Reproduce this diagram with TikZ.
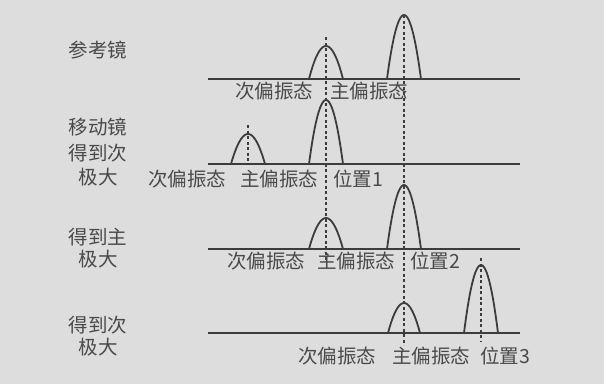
\documentclass[tikz,border=0pt]{standalone}
\usepackage{fontspec}
\newfontfamily\cjk{Noto Sans CJK SC}
\definecolor{bggray}{HTML}{DDDDDD}
\definecolor{inkgray}{HTML}{3C3C3C}
\definecolor{txtgray}{HTML}{4A4A4A}
\newcommand{\mypeak}[4]{% centre x, baseline y, half width, height
  \draw[solidline] plot[domain=-#3:#3, samples=31, smooth] ({#1+\x},{#2-#4*(1-(\x/#3)*(\x/#3))});}
\begin{document}
\begin{tikzpicture}[x=1pt,y=-1pt,
  solidline/.style={draw=inkgray, line width=1.8pt},
  dashline/.style={draw=inkgray, line width=1.1pt, dash pattern=on 3pt off 2.5pt},
  lab/.style={font=\cjk\fontsize{19.5}{20}\selectfont, text=txtgray, inner sep=0pt, anchor=west},
  side/.style={font=\cjk\fontsize{19.5}{20}\selectfont, text=txtgray, inner sep=0pt, anchor=center}]
\fill[bggray] (0,0) rectangle (604,384);
\useasboundingbox (0,0) rectangle (604,384);

% side labels
\node[side] (s1) at (98,50) {参考镜};
\node[side] (s2) at (98,127) {移动镜};
\node[side] (s3) at (98,153) {得到次};
\node[side] (s4) at (98,177) {极大};
\node[side] (s5) at (98,237) {得到主};
\node[side] (s6) at (98,259) {极大};
\node[side] (s7) at (98,325) {得到次};
\node[side] (s8) at (98,347) {极大};

% baselines
\coordinate (b1l) at (208,79);  \coordinate (b1r) at (520,79);
\coordinate (b2l) at (208,164); \coordinate (b2r) at (520,164);
\coordinate (b3l) at (208,249); \coordinate (b3r) at (520,249);
\coordinate (b4l) at (208,333); \coordinate (b4r) at (520,333);
\draw[solidline] (b1l) -- (b1r);
\draw[solidline] (b2l) -- (b2r);
\draw[solidline] (b3l) -- (b3r);
\draw[solidline] (b4l) -- (b4r);

% peaks
\mypeak{326}{79}{17}{33}
\mypeak{404}{79}{17}{64}
\mypeak{248}{164}{17}{30}
\mypeak{326}{164}{17}{64}
\mypeak{326}{249}{17}{31}
\mypeak{404}{249}{17}{64}
\mypeak{404}{333}{16}{30}
\mypeak{481}{333}{17}{68}

% dashed verticals
\coordinate (d1t) at (326,37);  \coordinate (d1b) at (326,262);
\coordinate (d2t) at (404,15);  \coordinate (d2b) at (404,345);
\coordinate (d3t) at (248,125); \coordinate (d3b) at (248,164);
\coordinate (d4t) at (481,258); \coordinate (d4b) at (481,342);
\draw[dashline] (d1t) -- (d1b);
\draw[dashline] (d2t) -- (d2b);
\draw[dashline] (d3t) -- (d3b);
\draw[dashline] (d4t) -- (d4b);

% row labels
\node[lab] (r1a) at (235,91) {次偏振态};
\node[lab] (r1b) at (330,91) {主偏振态};
\node[lab] (r2a) at (148,179) {次偏振态};
\node[lab] (r2b) at (240,179) {主偏振态};
\node[lab] (r2c) at (333,179) {位置1};
\node[lab] (r3a) at (227,261) {次偏振态};
\node[lab] (r3b) at (317,261) {主偏振态};
\node[lab] (r3c) at (410,261) {位置2};
\node[lab] (r4a) at (298,356) {次偏振态};
\node[lab] (r4b) at (392,356) {主偏振态};
\node[lab] (r4c) at (480,356) {位置3};
\end{tikzpicture}
\end{document}
